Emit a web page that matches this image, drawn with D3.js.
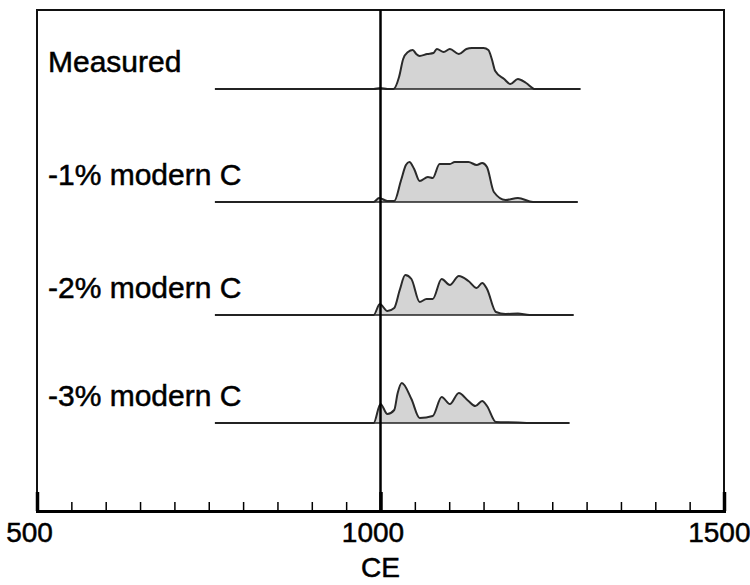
<!DOCTYPE html>
<html>
<head>
<meta charset="utf-8">
<script src="https://cdn.jsdelivr.net/npm/d3@7"></script>
<style>
  body { margin: 0; background: #fff; }
  text { font-family: "Liberation Sans", Arial, sans-serif; fill: #000; }
</style>
</head>
<body>
<div id="chart"></div>
<script>
// panel labels, top to bottom
const labels = ["Measured", "-1% modern C", "-2% modern C", "-3% modern C"]

// [CE year, relative probability]
const measured = [[759,0],[990,0],[1000,1],[1010,0],[1019,0],[1027,12],[1033,30],[1040,37],[1047,39],[1052,35],[1057,33],[1068,35],[1077,36],[1082,40],[1092,37],[1101,40],[1114,35],[1125,40],[1133,41],[1150,41],[1157,39],[1162,30],[1167,18],[1180,10],[1189,5],[1200,10],[1212,6],[1225,0],[1291,0]]
const minus1 = [[759,0],[990,0],[998,4],[1010,1],[1020,1],[1030,22],[1037,37],[1042,40],[1049,33],[1057,21],[1069,25],[1076,24],[1086,38],[1101,38],[1108,40],[1128,40],[1140,37],[1148,39],[1155,35],[1165,10],[1182,2],[1200,4],[1222,0],[1287,0]]
const minus2 = [[759,0],[990,0],[999,11],[1010,4],[1020,7],[1028,25],[1036,40],[1045,36],[1057,13],[1067,16],[1076,16],[1089,36],[1101,30],[1114,39],[1128,34],[1140,27],[1148,32],[1155,26],[1168,3],[1182,1],[1200,1.5],[1217,0],[1281,0]]
const minus3 = [[759,0],[990,0],[1000,19],[1010,9],[1020,13],[1025,30],[1031,40],[1045,24],[1057,5],[1076,7],[1089,26],[1101,19],[1114,30],[1128,22],[1138,17],[1148,22],[1155,17],[1168,1],[1200,0.5],[1217,0],[1275,0]]
const series = [measured, minus1, minus2, minus3]

// baseline y of each panel
const baselines = [89, 202, 315, 423]

const majorTicks = [500, 1000, 1500]
const minorTicks = d3.range(500, 1501, 50)

const width = 750
const height = 585
const frame = { left: 37, right: 724, top: 10, bottom: 511 }

const svg = d3.select("#chart")
  .append("svg")
  .attr("width", width)
  .attr("height", height)

const x = d3.scaleLinear().domain([500, 1500]).range([frame.left, frame.right])
const y = d3.scaleLinear().domain([0, 45]).range([0, 45])

// frame
svg.append("rect")
  .attr("x", frame.left)
  .attr("y", frame.top)
  .attr("width", frame.right - frame.left)
  .attr("height", frame.bottom - frame.top)
  .attr("fill", "none")
  .attr("stroke", "#111")
  .attr("stroke-width", 2)

series.forEach((d, i) => {
  const base = baselines[i]
  const g = svg.append("g")

  const area = d3.area()
    .x(p => x(p[0]))
    .y0(base)
    .y1(p => base - y(p[1]))
    .curve(d3.curveMonotoneX)

  const line = d3.line()
    .x(p => x(p[0]))
    .y(p => base - y(p[1]))
    .curve(d3.curveMonotoneX)

  g.append("path")
    .datum(d)
    .attr("d", area)
    .attr("fill", "#d4d4d4")

  g.append("path")
    .datum(d)
    .attr("d", line)
    .attr("fill", "none")
    .attr("stroke", "#2a2a2a")
    .attr("stroke-width", 2)

  g.append("line")
    .attr("x1", x(d[0][0]))
    .attr("x2", x(d[d.length - 1][0]))
    .attr("y1", base)
    .attr("y2", base)
    .attr("stroke", "#222")
    .attr("stroke-width", 1.6)

  g.append("text")
    .attr("x", 48)
    .attr("y", base - 17)
    .style("font-size", "30px")
    .attr("stroke", "#000")
    .attr("stroke-width", 0.5)
    .text(labels[i])
})

// 1000 CE marker
svg.append("line")
  .attr("x1", x(1000))
  .attr("x2", x(1000))
  .attr("y1", frame.top)
  .attr("y2", frame.bottom)
  .attr("stroke", "#000")
  .attr("stroke-width", 2.5)

// axis: minor ticks then major ticks with labels
const minorAxis = svg.append("g")
  .attr("transform", `translate(0, ${frame.bottom})`)
  .call(d3.axisBottom(x).tickValues(minorTicks).tickSize(-9).tickFormat(""))
minorAxis.select(".domain").attr("stroke-width", 3).attr("stroke", "#000")
minorAxis.selectAll(".tick line").attr("stroke-width", 1.5)

const majorAxis = svg.append("g")
  .attr("transform", `translate(0, ${frame.bottom})`)
  .call(d3.axisBottom(x).tickValues(majorTicks).tickSize(-19).tickPadding(11).tickFormat(d3.format("d")))
majorAxis.select(".domain").remove()
majorAxis.selectAll(".tick line").attr("stroke-width", 3.5)
majorAxis.selectAll(".tick text")
  .style("font-size", "28px")
  .style("font-family", "Liberation Sans, Arial, sans-serif")
  .attr("fill", "#000")
  .attr("stroke", "#000")
  .attr("stroke-width", 0.5)
  .attr("x", -8)
// last label sits against the right edge of the picture
majorAxis.selectAll(".tick text")
  .filter(d => d === 1500)
  .attr("text-anchor", "end")
  .attr("x", width - x(1500))

svg.append("text")
  .attr("x", x(1000))
  .attr("y", 577)
  .attr("text-anchor", "middle")
  .style("font-size", "28px")
  .attr("stroke", "#000")
  .attr("stroke-width", 0.5)
  .text("CE")
</script>
</body>
</html>
